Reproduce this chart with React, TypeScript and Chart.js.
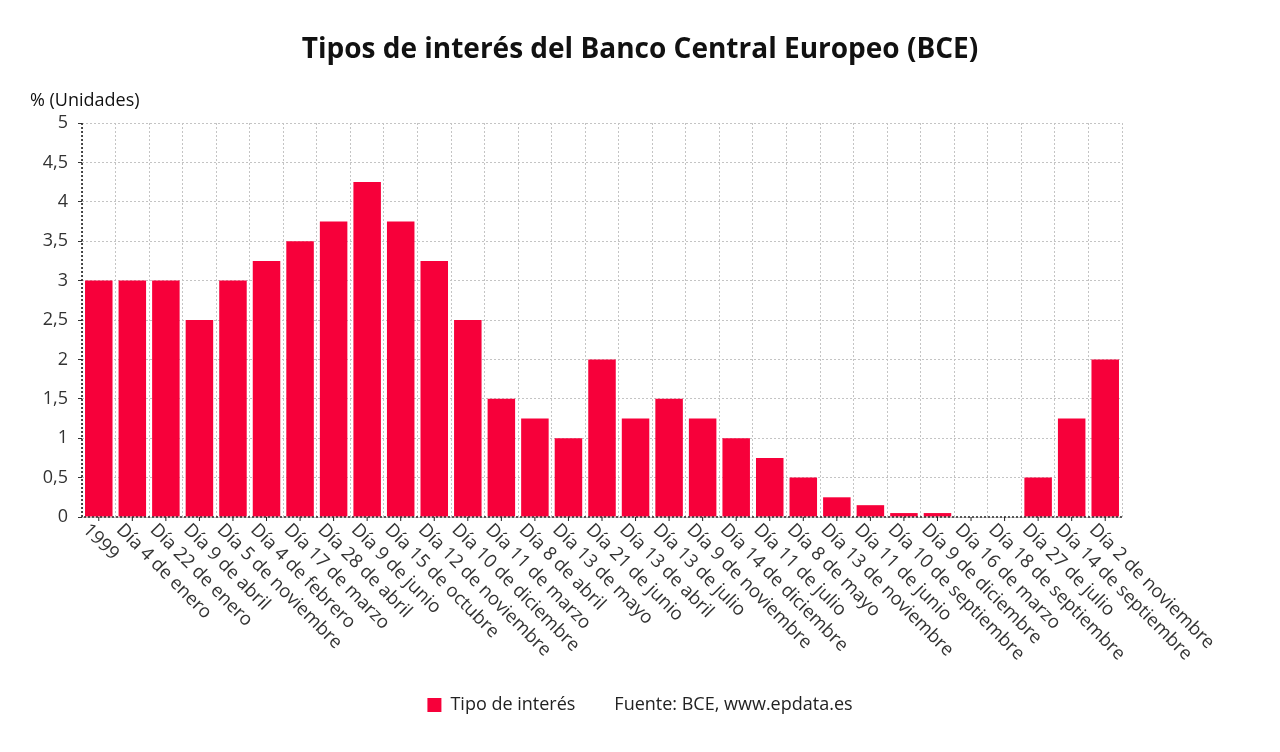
import { useEffect, useRef } from 'react';
import { Chart, registerables } from 'chart.js';

Chart.register(...registerables);

const chartTitle = 'Tipos de interés del Banco Central Europeo (BCE)';
const yAxisTitle = '% (Unidades)';
const seriesLabel = 'Tipo de interés';
const sourceText = 'Fuente: BCE, www.epdata.es';

const categories = [
  '1999',
  'Día 4 de enero',
  'Día 22 de enero',
  'Día 9 de abril',
  'Día 5 de noviembre',
  'Día 4 de febrero',
  'Día 17 de marzo',
  'Día 28 de abril',
  'Día 9 de junio',
  'Día 15 de octubre',
  'Día 12 de noviembre',
  'Día 10 de diciembre',
  'Día 11 de marzo',
  'Día 8 de abril',
  'Día 13 de mayo',
  'Día 21 de junio',
  'Día 13 de abril',
  'Día 13 de julio',
  'Día 9 de noviembre',
  'Día 14 de diciembre',
  'Día 11 de julio',
  'Día 8 de mayo',
  'Día 13 de noviembre',
  'Día 11 de junio',
  'Día 10 de septiembre',
  'Día 9 de diciembre',
  'Día 16 de marzo',
  'Día 18 de septiembre',
  'Día 27 de julio',
  'Día 14 de septiembre',
  'Día 2 de noviembre',
];

const rates = [
  3, 3, 3, 2.5, 3, 3.25, 3.5, 3.75, 4.25, 3.75, 3.25, 2.5, 1.5, 1.25, 1, 2,
  1.25, 1.5, 1.25, 1, 0.75, 0.5, 0.25, 0.15, 0.05, 0.05, 0, 0, 0.5, 1.25, 2,
];

const yMin = 0;
const yMax = 5;
const yStep = 0.5;

const FONT = "'Open Sans', 'Noto Sans', sans-serif";
const BAR_COLOR = '#f7003a';

const overlayPlugin = {
  id: 'overlay',
  afterDraw(chart: any) {
    const { ctx, chartArea, scales } = chart;
    const xs = scales.x;
    ctx.save();
    // dotted axis lines
    ctx.strokeStyle = '#222';
    ctx.lineWidth = 1.6;
    ctx.setLineDash([2, 2]);
    ctx.beginPath();
    ctx.moveTo(chartArea.left, chartArea.top);
    ctx.lineTo(chartArea.left, chartArea.bottom);
    ctx.lineTo(chartArea.right, chartArea.bottom);
    ctx.stroke();
    ctx.setLineDash([]);
    // x tick marks
    ctx.lineWidth = 1;
    categories.forEach((_, i) => {
      const px = xs.getPixelForValue(i);
      ctx.beginPath();
      ctx.moveTo(px, chartArea.bottom);
      ctx.lineTo(px, chartArea.bottom + 4);
      ctx.stroke();
    });
    // rotated x labels
    ctx.fillStyle = '#333';
    ctx.font = `18.5px ${FONT}`;
    ctx.textAlign = 'left';
    ctx.textBaseline = 'middle';
    categories.forEach((label, i) => {
      const px = xs.getPixelForValue(i);
      ctx.save();
      ctx.translate(px - 13, chartArea.bottom + 10);
      ctx.rotate(Math.PI / 4);
      ctx.fillText(label, 0, 0);
      ctx.restore();
    });
    // y axis title
    ctx.fillStyle = '#111';
    ctx.font = `18px ${FONT}`;
    ctx.textBaseline = 'middle';
    ctx.fillText(yAxisTitle, 30, 101);
    ctx.restore();
  },
};

export default function App() {
  const canvasRef = useRef<HTMLCanvasElement | null>(null);

  useEffect(() => {
    if (!canvasRef.current) return;
    Chart.defaults.font.family = FONT;
    const chart = new Chart(canvasRef.current, {
      type: 'bar',
      data: {
        labels: categories,
        datasets: [
          {
            label: seriesLabel,
            data: rates,
            backgroundColor: BAR_COLOR,
            borderWidth: 0,
            barPercentage: 0.82,
            categoryPercentage: 1,
          },
        ],
      },
      options: {
        animation: false,
        responsive: false,
        layout: { padding: { left: 0, right: 0, top: 0, bottom: 28 } },
        plugins: {
          title: {
            display: true,
            text: chartTitle,
            color: '#111',
            font: { size: 28, weight: 'bold', family: FONT },
            padding: { top: 33.2, bottom: 56.2 },
          },
          legend: {
            position: 'bottom',
            onClick: () => {},
            labels: {
              font: { size: 18, family: FONT },
              color: '#222',
              boxWidth: 14,
              boxHeight: 14,
              padding: 16,
              generateLabels: (c: any) => {
                const items = (Chart.defaults.plugins.legend.labels as any).generateLabels(c);
                items.push({
                  text: sourceText,
                  fillStyle: 'rgba(0,0,0,0)',
                  strokeStyle: 'rgba(0,0,0,0)',
                  lineWidth: 0,
                  hidden: false,
                  fontColor: '#222',
                });
                return items;
              },
            },
          },
          tooltip: { enabled: false },
        },
        scales: {
          x: {
            grid: { offset: true, color: '#c4c4c4', drawTicks: false },
            border: { display: false, dash: [2, 2] },
            ticks: { display: false },
            afterFit: (s: any) => {
              s.height = 163;
            },
          },
          y: {
            min: yMin,
            max: yMax,
            ticks: {
              stepSize: yStep,
              color: '#333',
              padding: 10,
              font: { size: 18, family: FONT },
              callback: (v: any) => String(v).replace('.', ','),
            },
            grid: { color: '#c4c4c4', tickLength: 4, tickColor: '#333' },
            border: { display: false, dash: [2, 2] },
            afterFit: (s: any) => {
              s.width = 82;
            },
          },
          y2: {
            position: 'right',
            display: true,
            grid: { display: false },
            ticks: { display: false },
            border: { display: false },
            afterFit: (s: any) => {
              s.width = 158;
            },
          },
        },
      } as any,
      plugins: [overlayPlugin],
    });
    return () => chart.destroy();
  }, []);

  return (
    <div style={{ position: 'fixed', left: 0, top: 0, width: 1280, height: 752, background: '#fff' }}>
      <canvas ref={canvasRef} width={1280} height={752} style={{ width: 1280, height: 752 }} />
    </div>
  );
}
